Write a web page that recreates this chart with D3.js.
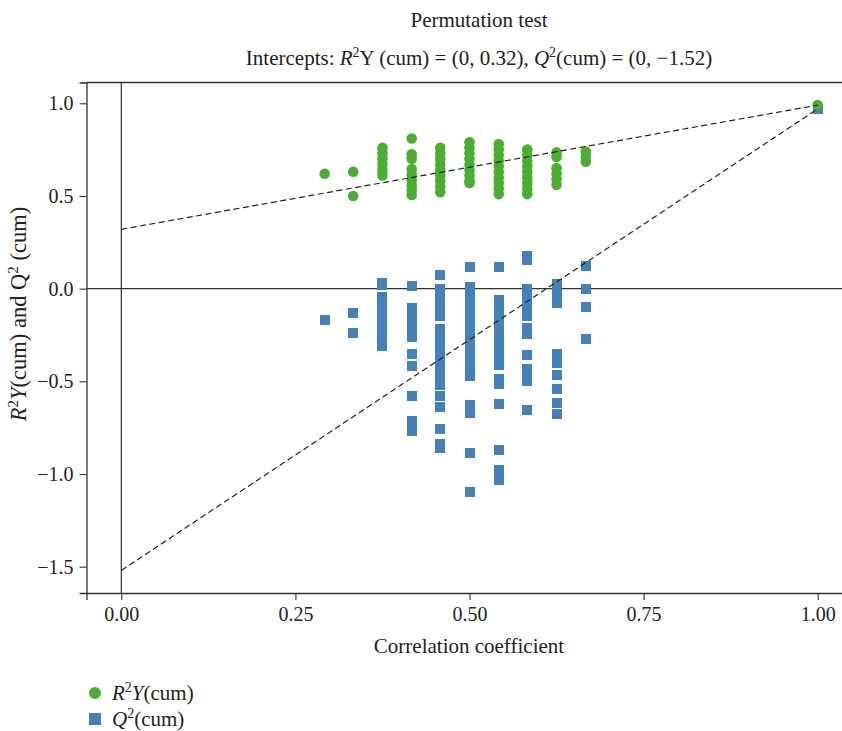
<!DOCTYPE html>
<html><head><meta charset="utf-8">
<script src="https://cdn.jsdelivr.net/npm/d3@7"></script>
<style>
body{margin:0;background:#fff;}
svg text{font-family:"Liberation Serif","DejaVu Serif",serif;fill:#222;}
</style></head>
<body><svg id="chart" width="842" height="731"></svg>
<script>
// Correlation coefficient of each permutation group
const corr = [0.292, 0.333, 0.375, 0.417, 0.458, 0.5, 0.542, 0.583, 0.625, 0.667, 1.0];
// R2Y(cum) values per group
const r2y = [
  [0.62],
  [0.63, 0.50],
  [0.76, 0.73, 0.70, 0.67, 0.64, 0.61],
  [0.81, 0.725, 0.70, 0.645, 0.615, 0.585, 0.555, 0.53, 0.505],
  [0.76, 0.73, 0.70, 0.67, 0.64, 0.61, 0.58, 0.55, 0.52],
  [0.79, 0.76, 0.73, 0.70, 0.67, 0.64, 0.61, 0.58, 0.57],
  [0.78, 0.75, 0.72, 0.69, 0.66, 0.63, 0.60, 0.57, 0.54, 0.51],
  [0.75, 0.72, 0.69, 0.66, 0.63, 0.60, 0.57, 0.54, 0.51],
  [0.735, 0.71, 0.65, 0.62, 0.59, 0.56],
  [0.74, 0.71, 0.685],
  [0.99]
];
// Q2(cum) values per group
const q2 = [
  [-0.17],
  [-0.13, -0.24],
  [0.03, 0.02, -0.045, -0.09, -0.135, -0.18, -0.225, -0.27, -0.31],
  [0.015, -0.105, -0.15, -0.195, -0.24, -0.26, -0.352, -0.42, -0.58, -0.715, -0.77],
  [0.075, 0.0, -0.05, -0.10, -0.15, -0.22, -0.27, -0.32, -0.37, -0.42, -0.47, -0.52, -0.58, -0.64, -0.757, -0.84, -0.86],
  [0.117, 0.01, -0.04, -0.09, -0.14, -0.19, -0.24, -0.28, -0.33, -0.38, -0.42, -0.47, -0.63, -0.67, -0.886, -1.097],
  [0.117, -0.06, -0.11, -0.16, -0.21, -0.26, -0.31, -0.36, -0.41, -0.49, -0.515, -0.62, -0.87, -0.98, -1.005, -1.03],
  [0.175, 0.155, 0.0, -0.05, -0.10, -0.15, -0.21, -0.245, -0.357, -0.435, -0.47, -0.50, -0.655],
  [0.025, -0.025, -0.078, -0.353, -0.40, -0.466, -0.542, -0.617, -0.676],
  [0.123, 0.0, -0.10, -0.27],
  [0.97]
];
// Regression lines: intercept at corr 0 and original model value at corr 1
const r2Line = [[0, 0.32], [1, 0.99]];
const q2Line = [[0, -1.52], [1, 0.97]];
const xTicks = [0, 0.25, 0.5, 0.75, 1.0];
const yTicks = [-1.5, -1.0, -0.5, 0.0, 0.5, 1.0];
const greenColor = "#4aae2f";
const blueColor = "#4481bb";

const svg = d3.select("#chart");
const x = d3.scaleLinear().domain([-0.05, 1.05]).range([86.5, 852.5]);
const y = d3.scaleLinear().domain([-1.642, 1.112]).range([593, 82.5]);
const fmtMinus = s => s.replace("-", "\u2212");

// Axes
const xAxis = svg.append("g").attr("transform", `translate(0,${y.range()[0]})`)
  .call(d3.axisBottom(x).tickValues(xTicks).tickFormat(d => d3.format(".2f")(d)).tickSizeOuter(0).tickSize(7).tickPadding(7));
const yAxis = svg.append("g").attr("transform", `translate(${x.range()[0]},0)`)
  .call(d3.axisLeft(y).tickValues(yTicks).tickFormat(d => fmtMinus(d3.format(".1f")(d))).tickSizeOuter(0).tickSize(7).tickPadding(6));
[xAxis, yAxis].forEach(a => {
  a.selectAll(".domain").attr("stroke", "#333").attr("stroke-width", 1.3);
  a.selectAll(".tick line").attr("stroke", "#333").attr("stroke-width", 1.1);
  a.selectAll(".tick text").attr("font-size", 20).attr("fill", "#222")
    .attr("font-family", "Liberation Serif, serif");
});
// top spine
svg.append("line").attr("x1", x.range()[0]).attr("x2", 842)
  .attr("y1", y.range()[1]).attr("y2", y.range()[1]).attr("stroke", "#333").attr("stroke-width", 1.3);

// zero lines
svg.append("line").attr("x1", x.range()[0]).attr("x2", 842).attr("y1", y(0)).attr("y2", y(0))
  .attr("stroke", "#333").attr("stroke-width", 1.2);
svg.append("line").attr("x1", x(0)).attr("x2", x(0)).attr("y1", y.range()[1]).attr("y2", y.range()[0])
  .attr("stroke", "#333").attr("stroke-width", 1.2);

// points
const q2pts = [], r2pts = [];
corr.forEach((c, i) => { q2[i].forEach(v => q2pts.push([c, v])); r2y[i].forEach(v => r2pts.push([c, v])); });
const sq = 10;
svg.append("g").attr("shape-rendering", "crispEdges").selectAll("rect").data(q2pts).join("rect")
  .attr("x", d => x(d[0]) - sq / 2).attr("y", d => y(d[1]) - sq / 2)
  .attr("width", sq).attr("height", sq).attr("fill", blueColor);
svg.append("g").selectAll("circle").data(r2pts).join("circle")
  .attr("cx", d => x(d[0])).attr("cy", d => y(d[1])).attr("r", 5.3).attr("fill", greenColor);

// dashed regression lines
const line = d3.line().x(d => x(d[0])).y(d => y(d[1]));
[r2Line, q2Line].forEach(l => svg.append("path").attr("d", line(l)).attr("fill", "none")
  .attr("stroke", "#222").attr("stroke-width", 1.2).attr("stroke-dasharray", "6,3.5"));

// Titles
svg.append("text").attr("x", 479).attr("y", 27).attr("text-anchor", "middle").attr("font-size", 21)
  .text("Permutation test");
const sub = svg.append("text").attr("x", 479).attr("y", 65).attr("text-anchor", "middle").attr("font-size", 21);
sub.append("tspan").text("Intercepts: ");
sub.append("tspan").attr("font-style", "italic").text("R");
sub.append("tspan").attr("font-size", 14).attr("dy", -8).text("2");
sub.append("tspan").attr("dy", 8).text("Y (cum) = (0, 0.32), ");
sub.append("tspan").attr("font-style", "italic").text("Q");
sub.append("tspan").attr("font-size", 14).attr("dy", -8).text("2");
sub.append("tspan").attr("dy", 8).text("(cum) = (0, \u22121.52)");

// x label
svg.append("text").attr("x", 469).attr("y", 653).attr("text-anchor", "middle").attr("font-size", 21)
  .text("Correlation coefficient");
// y label
const yl = svg.append("text").attr("transform", "translate(26,314) rotate(-90)").attr("text-anchor", "middle").attr("font-size", 22.5);
yl.append("tspan").attr("font-style", "italic").text("R");
yl.append("tspan").attr("font-size", 15).attr("dy", -8).text("2");
yl.append("tspan").attr("dy", 8).attr("font-style", "italic").text("Y");
yl.append("tspan").text("(cum) and ");
yl.append("tspan").text("Q");
yl.append("tspan").attr("font-size", 15).attr("dy", -8).text("2");
yl.append("tspan").attr("dy", 8).text(" (cum)");

// legend
const lg = svg.append("g");
lg.append("circle").attr("cx", 95).attr("cy", 693).attr("r", 6).attr("fill", greenColor);
lg.append("rect").attr("x", 89).attr("y", 713).attr("width", 12).attr("height", 12).attr("fill", blueColor);
const t1 = lg.append("text").attr("x", 112).attr("y", 700).attr("font-size", 21);
t1.append("tspan").attr("font-style", "italic").text("R");
t1.append("tspan").attr("font-size", 14).attr("dy", -8).text("2");
t1.append("tspan").attr("dy", 8).attr("font-style", "italic").text("Y");
t1.append("tspan").text("(cum)");
const t2 = lg.append("text").attr("x", 112).attr("y", 726).attr("font-size", 21);
t2.append("tspan").attr("font-style", "italic").text("Q");
t2.append("tspan").attr("font-size", 14).attr("dy", -8).text("2");
t2.append("tspan").attr("dy", 8).text("(cum)");
</script></body></html>
